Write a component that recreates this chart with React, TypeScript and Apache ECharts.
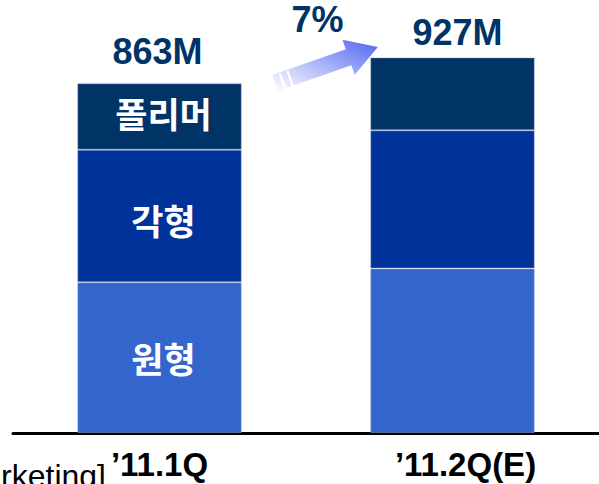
import React, { useEffect, useRef } from "react";
import * as echarts from "echarts";

const categories = ["’11.1Q", "’11.2Q(E)"];
const seriesNames = ["원형", "각형", "폴리머"];
const roundValues = [372, 406];
const prismValues = [327, 341];
const polymerValues = [164, 180];
const totalLabels = ["863M", "927M"];
const growthLabel = "7%";
const sourceNote = "[Marketing]";

const COLORS = ["#3366CC", "#003399", "#003366"];
const NAVY = "#003366";
const LATIN = "'Liberation Sans', Arial, sans-serif";
const KOREAN = "'Noto Sans CJK KR', 'Noto Sans', sans-serif";

export default function App() {
  const ref = useRef<HTMLDivElement>(null);

  useEffect(() => {
    if (!ref.current) return;
    const chart = echarts.init(ref.current, null, { renderer: "svg" });

    const segOffsets = [
      [4, 0],
      [4, 3],
      [4, -4],
    ];
    const valuesList = [roundValues, prismValues, polymerValues];

    const stackSeries = seriesNames.map((name, si) => ({
      name,
      type: "bar",
      stack: "total",
      barWidth: 164.5,
      itemStyle: {
        color: COLORS[si],
        borderColor: "rgba(160,175,210,0.45)",
        borderWidth: 1,
      },
      data: valuesList[si].map((v, i) =>
        i === 0
          ? {
              value: v,
              label: {
                show: true,
                position: "inside",
                formatter: name,
                color: "#ffffff",
                fontSize: 35,
                fontWeight: "bold",
                fontFamily: KOREAN,
                offset: segOffsets[si],
              },
            }
          : { value: v }
      ),
    }));

    const totalDistances = [14, 7];
    const totalOffsets = [
      [-2, 0],
      [5, 0],
    ];

    const totalSeries = {
      name: "total",
      type: "bar",
      stack: "total",
      barWidth: 164.5,
      silent: true,
      itemStyle: { color: "transparent" },
      data: totalLabels.map((t, i) => ({
        value: 0,
        label: {
          show: true,
          position: "top",
          distance: totalDistances[i],
          offset: totalOffsets[i],
          formatter: t,
          color: NAVY,
          fontSize: 36,
          fontWeight: "bold",
          fontFamily: LATIN,
        },
      })),
    };

    // arrow geometry (decoration)
    const arrowPts = [
      [272.2, 75.0],
      [345.8, 49.3],
      [342.5, 39.8],
      [377.9, 47.0],
      [354.7, 74.8],
      [351.4, 65.3],
      [277.8, 91.0],
    ];

    const option: any = {
      animation: false,
      backgroundColor: "#ffffff",
      grid: { left: 13, top: 27.8, width: 591, height: 405.2 },
      xAxis: {
        type: "category",
        data: categories,
        offset: 2,
        axisLine: { show: true, lineStyle: { color: "#000000", width: 3 } },
        axisTick: { show: false },
        axisLabel: {
          margin: 13,
          formatter: (v: string, i: number) => (i === 0 ? `{a|${v}}` : `{b|${v}}`),
          rich: {
            a: {
              fontSize: 33,
              fontWeight: "bold",
              fontFamily: LATIN,
              color: "#000000",
            },
            b: {
              fontSize: 33,
              fontWeight: "bold",
              fontFamily: LATIN,
              color: "#000000",
              padding: [0, 0, 0, 26],
            },
          },
        },
      },
      yAxis: {
        type: "value",
        min: 0,
        max: 1000,
        show: false,
        splitLine: { show: false },
      },
      series: [...stackSeries, totalSeries],
      graphic: [
        {
          type: "polygon",
          shape: { points: arrowPts },
          style: {
            fill: new echarts.graphic.LinearGradient(0, 1, 1, 0, [
              { offset: 0, color: "#ffffff" },
              { offset: 0.15, color: "#e6e9fd" },
              { offset: 1, color: "#5066f0" },
            ]),
          },
          z: 10,
        },
        {
          type: "line",
          shape: { x1: 279.8, y1: 73.5, x2: 285.4, y2: 89.5 },
          style: { stroke: "#ffffff", lineWidth: 2.5 },
          z: 11,
        },
        {
          type: "line",
          shape: { x1: 287.4, y1: 70.9, x2: 293.0, y2: 86.9 },
          style: { stroke: "#ffffff", lineWidth: 2.5 },
          z: 11,
        },
        {
          type: "text",
          x: 317.5,
          y: 19,
          style: {
            text: growthLabel,
            fill: NAVY,
            font: `bold 36px ${LATIN}`,
            textAlign: "center",
            textVerticalAlign: "middle",
          },
          z: 12,
        },
        {
          type: "text",
          x: 106,
          y: 492,
          style: {
            text: sourceNote,
            fill: "#000000",
            font: `32px ${LATIN}`,
            textAlign: "right",
            textVerticalAlign: "bottom",
          },
          z: 12,
        },
      ],
    };

    chart.setOption(option);
    return () => chart.dispose();
  }, []);

  return (
    <div
      ref={ref}
      style={{ width: 599, height: 484, position: "absolute", left: 0, top: 0 }}
    />
  );
}
